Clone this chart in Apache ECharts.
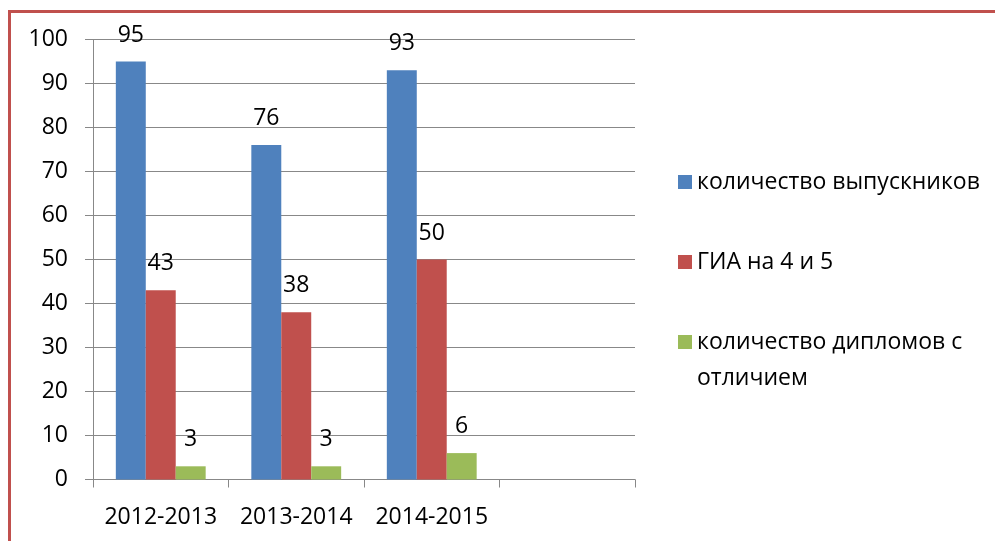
<!DOCTYPE html>
<html>
<head>
<meta charset="utf-8">
<script src="https://cdn.jsdelivr.net/npm/echarts@6/dist/echarts.min.js"></script>
<style>
  html, body { margin: 0; padding: 0; background: #fff; }
  #frame { position: absolute; left: 8px; top: 10px; width: 987px; height: 531px;
           border-top: 3px solid #C0504D; border-left: 3px solid #C0504D; box-sizing: border-box; }
  #chart { position: absolute; left: 0; top: 0; width: 995px; height: 541px; }
</style>
</head>
<body>
<div id="frame"></div>
<div id="chart"></div>
<script>
// years (last slot left empty, as in the source chart)
var categories = ['2012-2013', '2013-2014', '2014-2015', ''];
var graduates = [95, 76, 93, null];
var giaGood = [43, 38, 50, null];
var honours = [3, 3, 6, null];
var seriesNames = ['количество выпускников', 'ГИА на 4 и 5', 'количество дипломов с отличием'];
var colors = ['#4F81BD', '#C0504D', '#9BBB59'];

var font = 'Open Sans';
var myChart = echarts.init(document.getElementById('chart'));

function bar(name, data, color) {
	return {
		name: name,
		type: 'bar',
		data: data,
		barGap: 0,
		barCategoryGap: '33.7%',
		itemStyle: { color: color },
		label: {
			show: true,
			position: 'top',
			distance: 15,
			color: '#000',
			fontSize: 23,
			fontFamily: font
		}
	};
}

// one legend per entry so each can sit where the original puts it
function legendItem(name, top, formatter) {
	return {
		orient: 'vertical',
		left: 678,
		top: top,
		padding: 0,
		itemWidth: 14,
		itemHeight: 14,
		icon: 'rect',
		formatter: formatter,
		textStyle: { fontSize: 23, fontFamily: font, color: '#000', lineHeight: 36 },
		data: [name]
	};
}

var option = {
	animation: false,
	color: colors,
	grid: { left: 93, right: 360, top: 39.5, bottom: 61.5 },
	legend: [
		legendItem(seriesNames[0], 164),
		legendItem(seriesNames[1], 244),
		// blank first line keeps the marker level with the first text line
		legendItem(seriesNames[2], 288, function () { return ' \nколичество дипломов с\nотличием'; })
	],
	xAxis: {
		type: 'category',
		data: categories,
		axisLine: { lineStyle: { color: '#888' } },
		axisTick: { show: true, length: 8, lineStyle: { color: '#888' } },
		axisLabel: { color: '#000', fontSize: 23, fontFamily: font, margin: 26, interval: 0, hideOverlap: false },
		splitLine: { show: false }
	},
	yAxis: {
		type: 'value',
		min: 0,
		max: 100,
		interval: 10,
		axisLine: { show: true, lineStyle: { color: '#888' } },
		axisTick: { show: true, length: 8, lineStyle: { color: '#888' } },
		axisLabel: { color: '#000', fontSize: 23, fontFamily: font, margin: 25 },
		splitLine: { lineStyle: { color: '#888' } }
	},
	series: [
		bar(seriesNames[0], graduates, colors[0]),
		bar(seriesNames[1], giaGood, colors[1]),
		bar(seriesNames[2], honours, colors[2])
	]
};
myChart.setOption(option);
</script>
</body>
</html>
